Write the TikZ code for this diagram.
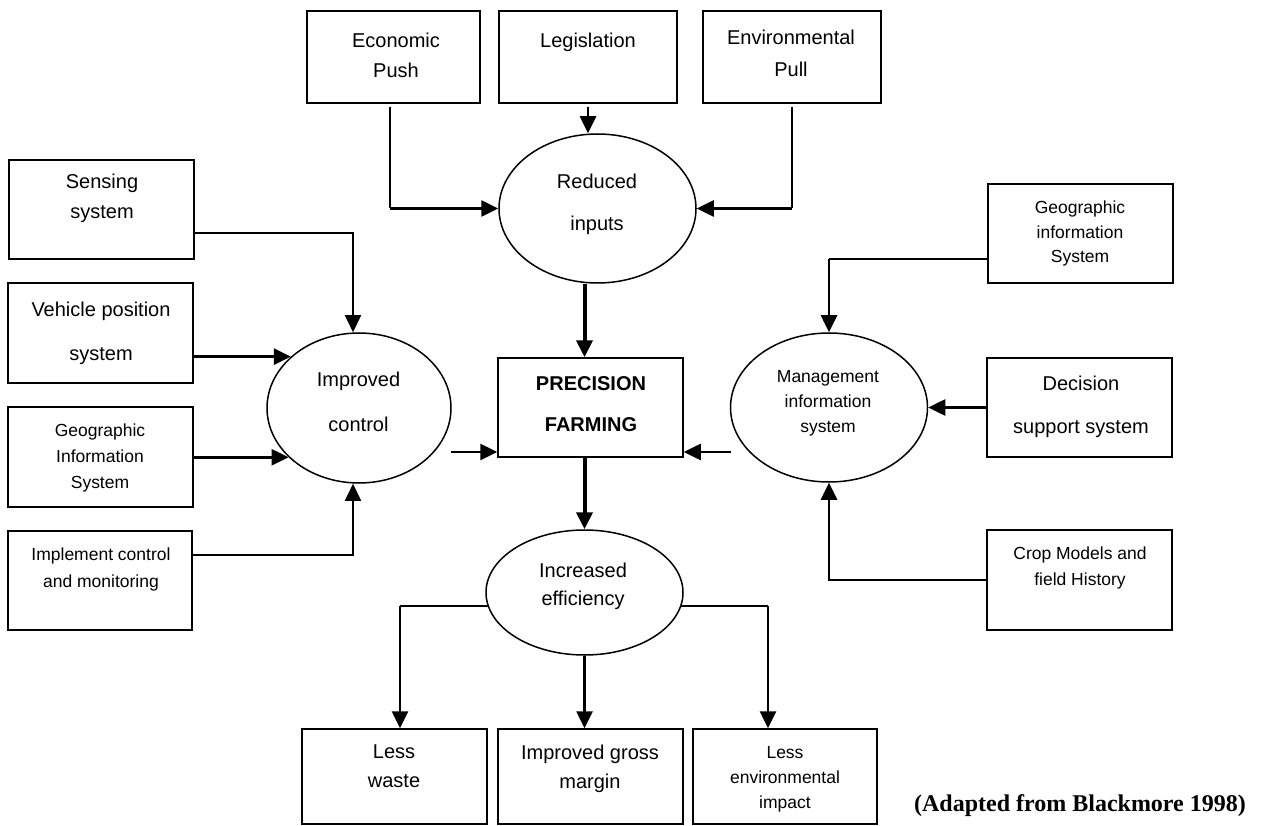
\documentclass[tikz,border=0pt]{standalone}
\usepackage{fontspec}
\setmainfont{Liberation Sans}
\newfontfamily\capfont{Liberation Serif}
\usetikzlibrary{arrows.meta,shapes.geometric,calc}
\tikzset{
  boxnode/.style={draw, rectangle, line width=1.5pt, inner sep=0pt},
  ellnode/.style={draw, ellipse, line width=1.5pt, inner sep=0pt},
  bigtxt/.style={font=\fontsize{20}{#1}\selectfont, align=center, inner sep=0pt},
  smalltxt/.style={font=\fontsize{17.5}{#1}\selectfont, align=center, inner sep=0pt},
  thinline/.style={line width=1.6pt},
  medline/.style={line width=2.6pt},
  thickline/.style={line width=4pt},
  tip/.style={-{Triangle[length=17pt,width=16pt]}},
}
\begin{document}
\begin{tikzpicture}[x=1pt,y=-1pt]
\useasboundingbox (0,0) rectangle (1261,826);
\fill[white] (0,0) rectangle (1261,826);

% boxes
\node[boxnode, minimum width=173pt, minimum height=92pt] (econ) at (393.5,57) {};
\node[boxnode, minimum width=178pt, minimum height=92pt] (leg) at (588,57) {};
\node[boxnode, minimum width=178pt, minimum height=92pt] (envp) at (792,57) {};
\node[boxnode, minimum width=185pt, minimum height=99pt] (sens) at (101.5,209.5) {};
\node[boxnode, minimum width=185pt, minimum height=100pt] (veh) at (100.5,333) {};
\node[boxnode, minimum width=185pt, minimum height=100pt] (gisl) at (100.5,457) {};
\node[boxnode, minimum width=184pt, minimum height=99pt] (impl) at (100,580.5) {};
\node[boxnode, minimum width=185pt, minimum height=99pt] (prec) at (590.5,407.5) {};
\node[boxnode, minimum width=185pt, minimum height=99pt] (gisr) at (1080.5,233.5) {};
\node[boxnode, minimum width=185pt, minimum height=99pt] (dec) at (1079.5,407.5) {};
\node[boxnode, minimum width=185pt, minimum height=100pt] (crop) at (1079.5,580) {};
\node[boxnode, minimum width=185pt, minimum height=95pt] (waste) at (394.5,776.5) {};
\node[boxnode, minimum width=185pt, minimum height=95pt] (gm) at (590.5,776.5) {};
\node[boxnode, minimum width=184pt, minimum height=95pt] (lei) at (785,776.5) {};

% ellipses
\node[ellnode, minimum width=197pt, minimum height=149pt] (red) at (597.5,208.5) {};
\node[ellnode, minimum width=184pt, minimum height=150pt] (ic) at (359,408) {};
\node[ellnode, minimum width=197pt, minimum height=149pt] (mis) at (829,407.5) {};
\node[ellnode, minimum width=197pt, minimum height=125pt] (ie) at (584.5,592.5) {};

% texts
\node[bigtxt=30] (tecon) at (396,57) {\strut Economic\\\strut Push};
\node[bigtxt=30] (tleg) at (588,42) {\strut Legislation};
\node[bigtxt=32] (tenvp) at (791,54) {\strut Environmental\\\strut Pull};
\node[bigtxt=30] (tsens) at (102,198) {\strut Sensing\\\strut system};
\node[bigtxt=44] (tveh) at (101,330) {\strut Vehicle position\\\strut system};
\node[smalltxt=26] (tgisl) at (100,457) {\strut Geographic\\\strut Information\\\strut System};
\node[smalltxt=27] (timpl) at (101,568.5) {\strut Implement control\\\strut and monitoring};
\node[bigtxt=42] (tred) at (597,201) {\strut Reduced\\\strut inputs};
\node[bigtxt=45] (tic) at (358.5,399.5) {\strut Improved\\\strut control};
\node[bigtxt=41, font=\fontsize{20}{41}\selectfont\bfseries] (tprec) at (591,402.5) {\strut PRECISION\\\strut FARMING};
\node[smalltxt=24.5] (tgisr) at (1080,233.5) {\strut Geographic\\\strut information\\\strut System};
\node[smalltxt=25] (tmis) at (828,402) {\strut Management\\\strut information\\\strut system};
\node[bigtxt=43] (tdec) at (1081,403.5) {\strut Decision\\\strut support system};
\node[smalltxt=26] (tcrop) at (1080,567) {\strut Crop Models and\\\strut field History};
\node[bigtxt=28] (tie) at (583,586) {\strut Increased\\\strut efficiency};
\node[bigtxt=29] (twaste) at (394,767.5) {\strut Less\\\strut waste};
\node[bigtxt=29] (tgm) at (590,768.5) {\strut Improved gross\\\strut margin};
\node[smalltxt=25] (tlei) at (785,778) {\strut Less\\\strut environmental\\\strut impact};
\node[font=\capfont\fontsize{24}{28}\selectfont\bfseries, inner sep=0pt, anchor=base] (cap) at (1080,811) {(Adapted from Blackmore 1998)};

% coordinates for detached arrows
\coordinate (icp) at (451,452);
\coordinate (misp) at (731,452);

% connectors: top
\draw[medline, tip] ([yshift=-3pt]leg.south) -- (leg.south |- red.north);
\draw[thinline] ([xshift=-3.5pt,yshift=-3pt]econ.south) -- ([xshift=-3.5pt]econ.south |- red.west);
\draw[medline, tip] ([xshift=-3.5pt]econ.south |- red.west) -- (red.west);
\draw[thinline] ([yshift=-3pt]envp.south) -- (envp.south |- red.east);
\draw[medline, tip] (envp.south |- red.east) -- (red.east);
\draw[thickline, tip] (ie.north |- red.south) -- (ie.north |- prec.north);
\draw[thickline, tip] (ie.north |- prec.south) -- (ie.north);

% left side
\draw[thinline, tip] ([yshift=-23.5pt]sens.east) -| ([xshift=-6pt]ic.north);
\draw[medline, tip] (veh.east |- ic.143.9) -- (ic.143.9);
\draw[medline, tip] (gisl.east |- ic.215.1) -- (ic.215.1);
\draw[thinline, tip] ([yshift=25.5pt]impl.east) -| ([xshift=-6pt]ic.south);
\draw[medline, tip] (icp) -- (icp -| prec.west);

% right side
\draw[thinline] ([yshift=-25.5pt]gisr.west) -| (mis.north |- 0,259);
\draw[medline, tip] (mis.north |- 0,259) -- (mis.north);
\draw[medline, tip] (dec.west) -- (mis.east);
\draw[medline, tip] (crop.west) -| (mis.south);
\draw[medline, tip] (misp) -- (misp -| prec.east);

% bottom
\draw[thinline] (ie.188) -| ([xshift=5.5pt]waste.north |- ie.188);
\draw[medline, tip] ([xshift=5.5pt]waste.north |- ie.188) -- ([xshift=5.5pt]waste.north);
\draw[medline, tip] (ie.south) -- (ie.south |- gm.north);
\draw[thinline] (ie.352) -- ([xshift=-17pt]lei.north |- ie.352);
\draw[medline, tip] ([xshift=-17pt]lei.north |- ie.352) -- ([xshift=-17pt]lei.north);
\end{tikzpicture}
\end{document}
